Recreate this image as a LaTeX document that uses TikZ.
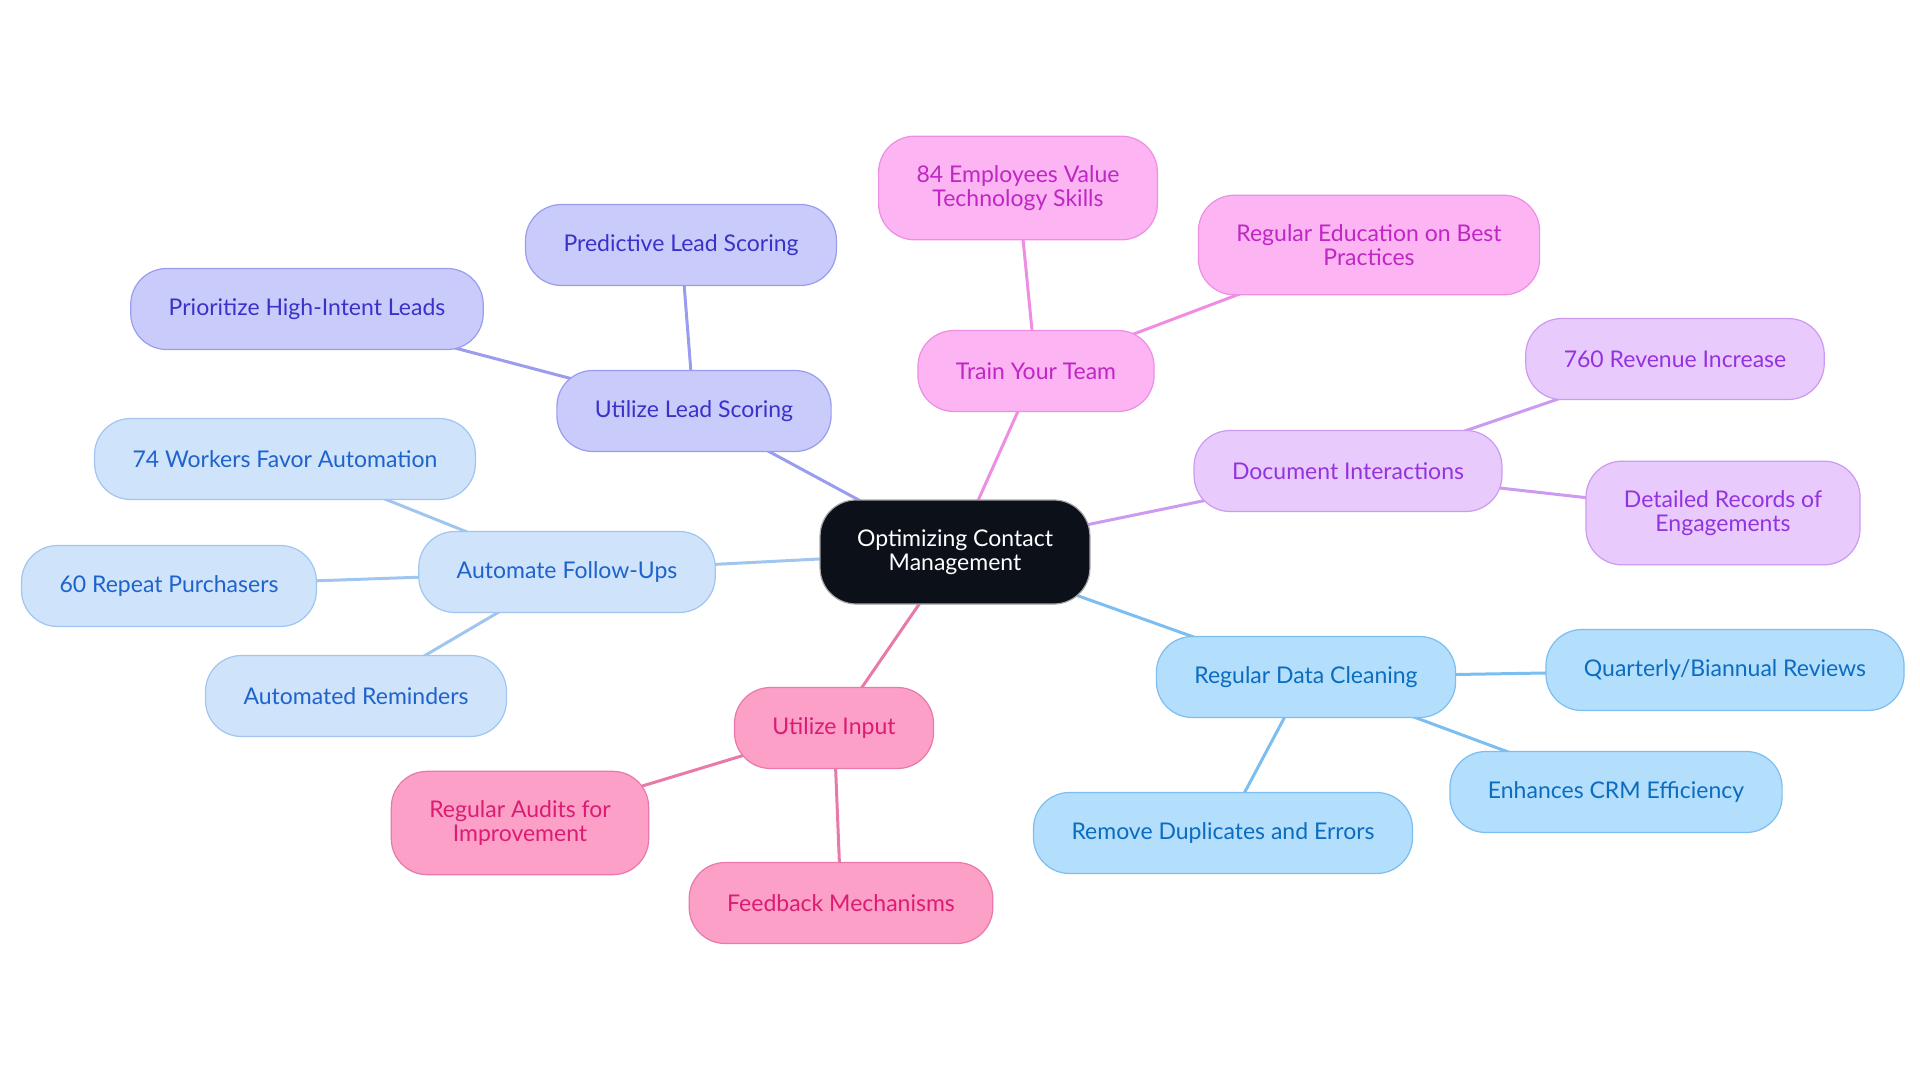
\documentclass[tikz,border=0pt]{standalone}
\usepackage{fontspec}
\setmainfont{Lato}
\usepackage{tikz}
\usetikzlibrary{backgrounds}
\usepackage{xcolor}
\definecolor{hubfill}{HTML}{0B1019}
\definecolor{leadfill}{HTML}{C9CBFB}\definecolor{leaddraw}{HTML}{9A9CF0}\definecolor{leadtext}{HTML}{3A32C8}
\definecolor{followfill}{HTML}{CFE3FB}\definecolor{followdraw}{HTML}{A0C6F0}\definecolor{followtext}{HTML}{1E63CC}
\definecolor{inputfill}{HTML}{FCA0C8}\definecolor{inputdraw}{HTML}{E87AAA}\definecolor{inputtext}{HTML}{DB1C72}
\definecolor{trainfill}{HTML}{FCB4F3}\definecolor{traindraw}{HTML}{EE8EE2}\definecolor{traintext}{HTML}{C026C4}
\definecolor{docufill}{HTML}{E8CBFC}\definecolor{docudraw}{HTML}{CC9AF0}\definecolor{docutext}{HTML}{9333E0}
\definecolor{cleanfill}{HTML}{B3DEFC}\definecolor{cleandraw}{HTML}{7CBEF0}\definecolor{cleantext}{HTML}{0B6CC0}

\begin{document}
\begin{tikzpicture}[x=1pt,y=-1pt,
    box/.style={rounded corners=36pt,align=center,inner xsep=38pt,inner ysep=29pt,
                minimum height=81pt,line width=1.2pt,font=\fontsize{23}{24.5}\selectfont},
    hub/.style={box,fill=hubfill,draw=gray!70,text=white,minimum height=104pt,inner xsep=37pt},
    lead/.style={box,fill=leadfill,draw=leaddraw,text=leadtext},
    follow/.style={box,fill=followfill,draw=followdraw,text=followtext},
    input/.style={box,fill=inputfill,draw=inputdraw,text=inputtext},
    train/.style={box,fill=trainfill,draw=traindraw,text=traintext},
    docu/.style={box,fill=docufill,draw=docudraw,text=docutext},
    clean/.style={box,fill=cleanfill,draw=cleandraw,text=cleantext},
    link/.style={line width=3pt}]
    \useasboundingbox (0,0) rectangle (1920,1083);
    % hub
    \node[hub] (hub) at (955,552) {Optimizing Contact\\Management};
    % lead scoring
    \node[lead] (lead) at (694,411) {Utilize Lead Scoring};
    \node[lead] (predict) at (681,245) {Predictive Lead Scoring};
    \node[lead] (prior) at (307,309) {Prioritize High-Intent Leads};
    % follow-ups
    \node[follow] (follow) at (567,572) {Automate Follow-Ups};
    \node[follow] (workers) at (285,459) {74 Workers Favor Automation};
    \node[follow] (repeat) at (169,586) {60 Repeat Purchasers};
    \node[follow] (remind) at (356,696) {Automated Reminders};
    % input
    \node[input] (input) at (834,728) {Utilize Input};
    \node[input] (audits) at (520,823) {Regular Audits for\\Improvement};
    \node[input] (feedback) at (841,903) {Feedback Mechanisms};
    % team
    \node[train] (train) at (1036,371) {Train Your Team};
    \node[train] (skills) at (1018,188) {84 Employees Value\\Technology Skills};
    \node[train] (educ) at (1369,245) {Regular Education on Best\\Practices};
    % interactions
    \node[docu] (docu) at (1348,471) {Document Interactions};
    \node[docu] (revenue) at (1675,359) {760 Revenue Increase};
    \node[docu] (records) at (1723,513) {Detailed Records of\\Engagements};
    % data cleaning
    \node[clean] (clean) at (1306,677) {Regular Data Cleaning};
    \node[clean] (reviews) at (1725,670) {Quarterly/Biannual Reviews};
    \node[clean] (crm) at (1616,792) {Enhances CRM Efficiency};
    \node[clean] (dupl) at (1223,833) {Remove Duplicates and Errors};
    \begin{scope}[on background layer]
        \draw[link,leaddraw] (hub.center) -- (lead.center);
        \foreach \n in {predict,prior} {\draw[link,leaddraw] (lead.center) -- (\n.center);}
        \draw[link,followdraw] (hub.center) -- (follow.center);
        \foreach \n in {workers,repeat,remind} {\draw[link,followdraw] (follow.center) -- (\n.center);}
        \draw[link,inputdraw] (hub.center) -- (input.center);
        \foreach \n in {audits,feedback} {\draw[link,inputdraw] (input.center) -- (\n.center);}
        \draw[link,traindraw] (hub.center) -- (train.center);
        \foreach \n in {skills,educ} {\draw[link,traindraw] (train.center) -- (\n.center);}
        \draw[link,docudraw] (hub.center) -- (docu.center);
        \foreach \n in {revenue,records} {\draw[link,docudraw] (docu.center) -- (\n.center);}
        \draw[link,cleandraw] (hub.center) -- (clean.center);
        \foreach \n in {reviews,crm,dupl} {\draw[link,cleandraw] (clean.center) -- (\n.center);}
    \end{scope}
\end{tikzpicture}
\end{document}
